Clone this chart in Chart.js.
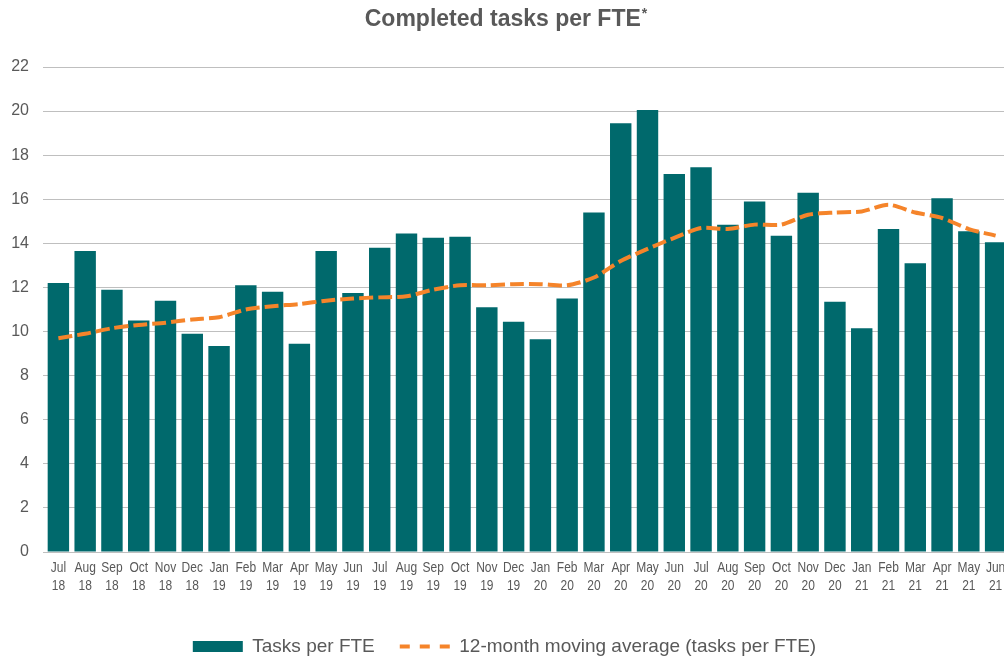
<!DOCTYPE html>
<html lang="en">
<head>
    <meta charset="UTF-8">
    <title>Completed tasks per FTE</title>
    <script src="https://cdn.jsdelivr.net/npm/chart.js"></script>
    <style>
        html, body { margin: 0; padding: 0; overflow: hidden; background: #fff; }
        #tasksChart { display: block; }
    </style>
</head>
<body>
    <canvas id="tasksChart" width="1010" height="659"></canvas>

    <script>
        // month / year tick labels (two lines each)
        const monthNames = ['Jul', 'Aug', 'Sep', 'Oct', 'Nov', 'Dec', 'Jan', 'Feb', 'Mar', 'Apr', 'May', 'Jun',
                            'Jul', 'Aug', 'Sep', 'Oct', 'Nov', 'Dec', 'Jan', 'Feb', 'Mar', 'Apr', 'May', 'Jun',
                            'Jul', 'Aug', 'Sep', 'Oct', 'Nov', 'Dec', 'Jan', 'Feb', 'Mar', 'Apr', 'May', 'Jun'];
        const yearNames = ['18', '18', '18', '18', '18', '18', '19', '19', '19', '19', '19', '19',
                           '19', '19', '19', '19', '19', '19', '20', '20', '20', '20', '20', '20',
                           '20', '20', '20', '20', '20', '20', '21', '21', '21', '21', '21', '21'];

        // monthly completed tasks per FTE (bars)
        const tasksPerFte = [12.2, 13.65, 11.9, 10.5, 11.4, 9.9, 9.35, 12.1, 11.8, 9.45, 13.65, 11.75,
                             13.8, 14.45, 14.25, 14.3, 11.1, 10.45, 9.65, 11.5, 15.4, 19.45, 20.05, 17.15,
                             17.45, 14.85, 15.9, 14.35, 16.3, 11.35, 10.15, 14.65, 13.1, 16.05, 14.55, 14.05];

        // 12-month moving average (dashed line)
        const movingAvg = [9.7, 9.9, 10.15, 10.3, 10.4, 10.55, 10.65, 11.0, 11.15, 11.25, 11.4, 11.5,
                           11.55, 11.6, 11.9, 12.1, 12.1, 12.15, 12.15, 12.1, 12.45, 13.2, 13.75, 14.25,
                           14.7, 14.65, 14.85, 14.85, 15.3, 15.4, 15.45, 15.75, 15.4, 15.15, 14.65, 14.35];

        const yMax = 22;
        const yStep = 2;

        const labels = monthNames.map((m, i) => [m, yearNames[i]]);

        const teal = '#00696c';
        const orange = '#f5842a';
        const grey = '#595959';
        const font = "'Liberation Sans', Arial, sans-serif";

        // title with a raised asterisk
        const titlePlugin = {
            id: 'titleStar',
            afterDraw(chart) {
                const ctx = chart.ctx;
                const main = 'Completed tasks per FTE';
                ctx.save();
                ctx.fillStyle = grey;
                ctx.textBaseline = 'alphabetic';
                ctx.textAlign = 'left';
                ctx.font = 'bold 23px ' + font;
                const w = ctx.measureText(main).width;
                ctx.font = 'bold 14px ' + font;
                const sw = ctx.measureText('*').width;
                const x0 = 506 - (w + sw + 1) / 2;
                ctx.font = 'bold 23px ' + font;
                ctx.fillText(main, x0, 26);
                ctx.font = 'bold 14px ' + font;
                ctx.fillText('*', x0 + w + 1, 18);
                ctx.restore();
            }
        };

        // narrow two-line month labels, placed from the x scale
        const narrowTicks = {
            id: 'narrowTicks',
            afterDraw(chart) {
                const ctx = chart.ctx;
                const xs = chart.scales.x;
                ctx.save();
                ctx.fillStyle = grey;
                ctx.font = '15px ' + font;
                ctx.textAlign = 'center';
                ctx.textBaseline = 'middle';
                labels.forEach((lab, i) => {
                    const x = xs.getPixelForValue(i);
                    lab.forEach((line, j) => {
                        ctx.save();
                        ctx.translate(x, 568 + j * 18);
                        ctx.scale(0.8, 1);
                        ctx.fillText(line, 0, 0);
                        ctx.restore();
                    });
                });
                ctx.restore();
            }
        };

        const ctx = document.getElementById('tasksChart').getContext('2d');
        new Chart(ctx, {
            data: {
                labels: labels,
                datasets: [
                    {
                        type: 'bar',
                        label: 'Tasks per FTE',
                        data: tasksPerFte,
                        backgroundColor: teal,
                        borderWidth: 0,
                        categoryPercentage: 1.0,
                        barPercentage: 0.8,
                        order: 1
                    },
                    {
                        type: 'line',
                        label: '12-month moving average (tasks per FTE)',
                        data: movingAvg,
                        borderColor: orange,
                        borderWidth: 4,
                        borderDash: [14, 5],
                        borderCapStyle: 'butt',
                        pointRadius: 0,
                        tension: 0.25,
                        fill: false,
                        order: 0
                    }
                ]
            },
            options: {
                responsive: false,
                animation: false,
                layout: { padding: { top: 67, right: 1, left: 0, bottom: -7 } },
                plugins: {
                    title: { display: false },
                    tooltip: { enabled: false },
                    legend: {
                        position: 'bottom',
                        labels: {
                            usePointStyle: true,
                            pointStyleWidth: 50,
                            boxHeight: 11,
                            padding: 25,
                            color: grey,
                            font: { family: font, size: 19 },
                            generateLabels(chart) {
                                return chart.data.datasets.map((ds, i) => {
                                    const isLine = ds.type === 'line';
                                    return {
                                        text: ds.label,
                                        datasetIndex: i,
                                        fillStyle: isLine ? orange : teal,
                                        strokeStyle: isLine ? orange : teal,
                                        lineWidth: isLine ? 4 : 0,
                                        lineDash: isLine ? [10, 10] : [],
                                        lineCap: 'butt',
                                        pointStyle: isLine ? 'line' : 'rect',
                                        fontColor: grey,
                                        hidden: false
                                    };
                                });
                            }
                        }
                    }
                },
                scales: {
                    x: {
                        grid: { display: false },
                        border: { display: false },
                        ticks: { display: false },
                        afterFit(scale) { scale.height = 60; }
                    },
                    y: {
                        min: 0,
                        max: yMax,
                        border: { display: false },
                        grid: { color: '#bfbfbf', lineWidth: 1, drawTicks: true, tickLength: 2 },
                        ticks: {
                            stepSize: yStep,
                            color: grey,
                            padding: 14,
                            font: { family: font, size: 16 }
                        },
                        afterFit(scale) { scale.width = 45; }
                    }
                }
            },
            plugins: [titlePlugin, narrowTicks]
        });
    </script>
</body>
</html>
